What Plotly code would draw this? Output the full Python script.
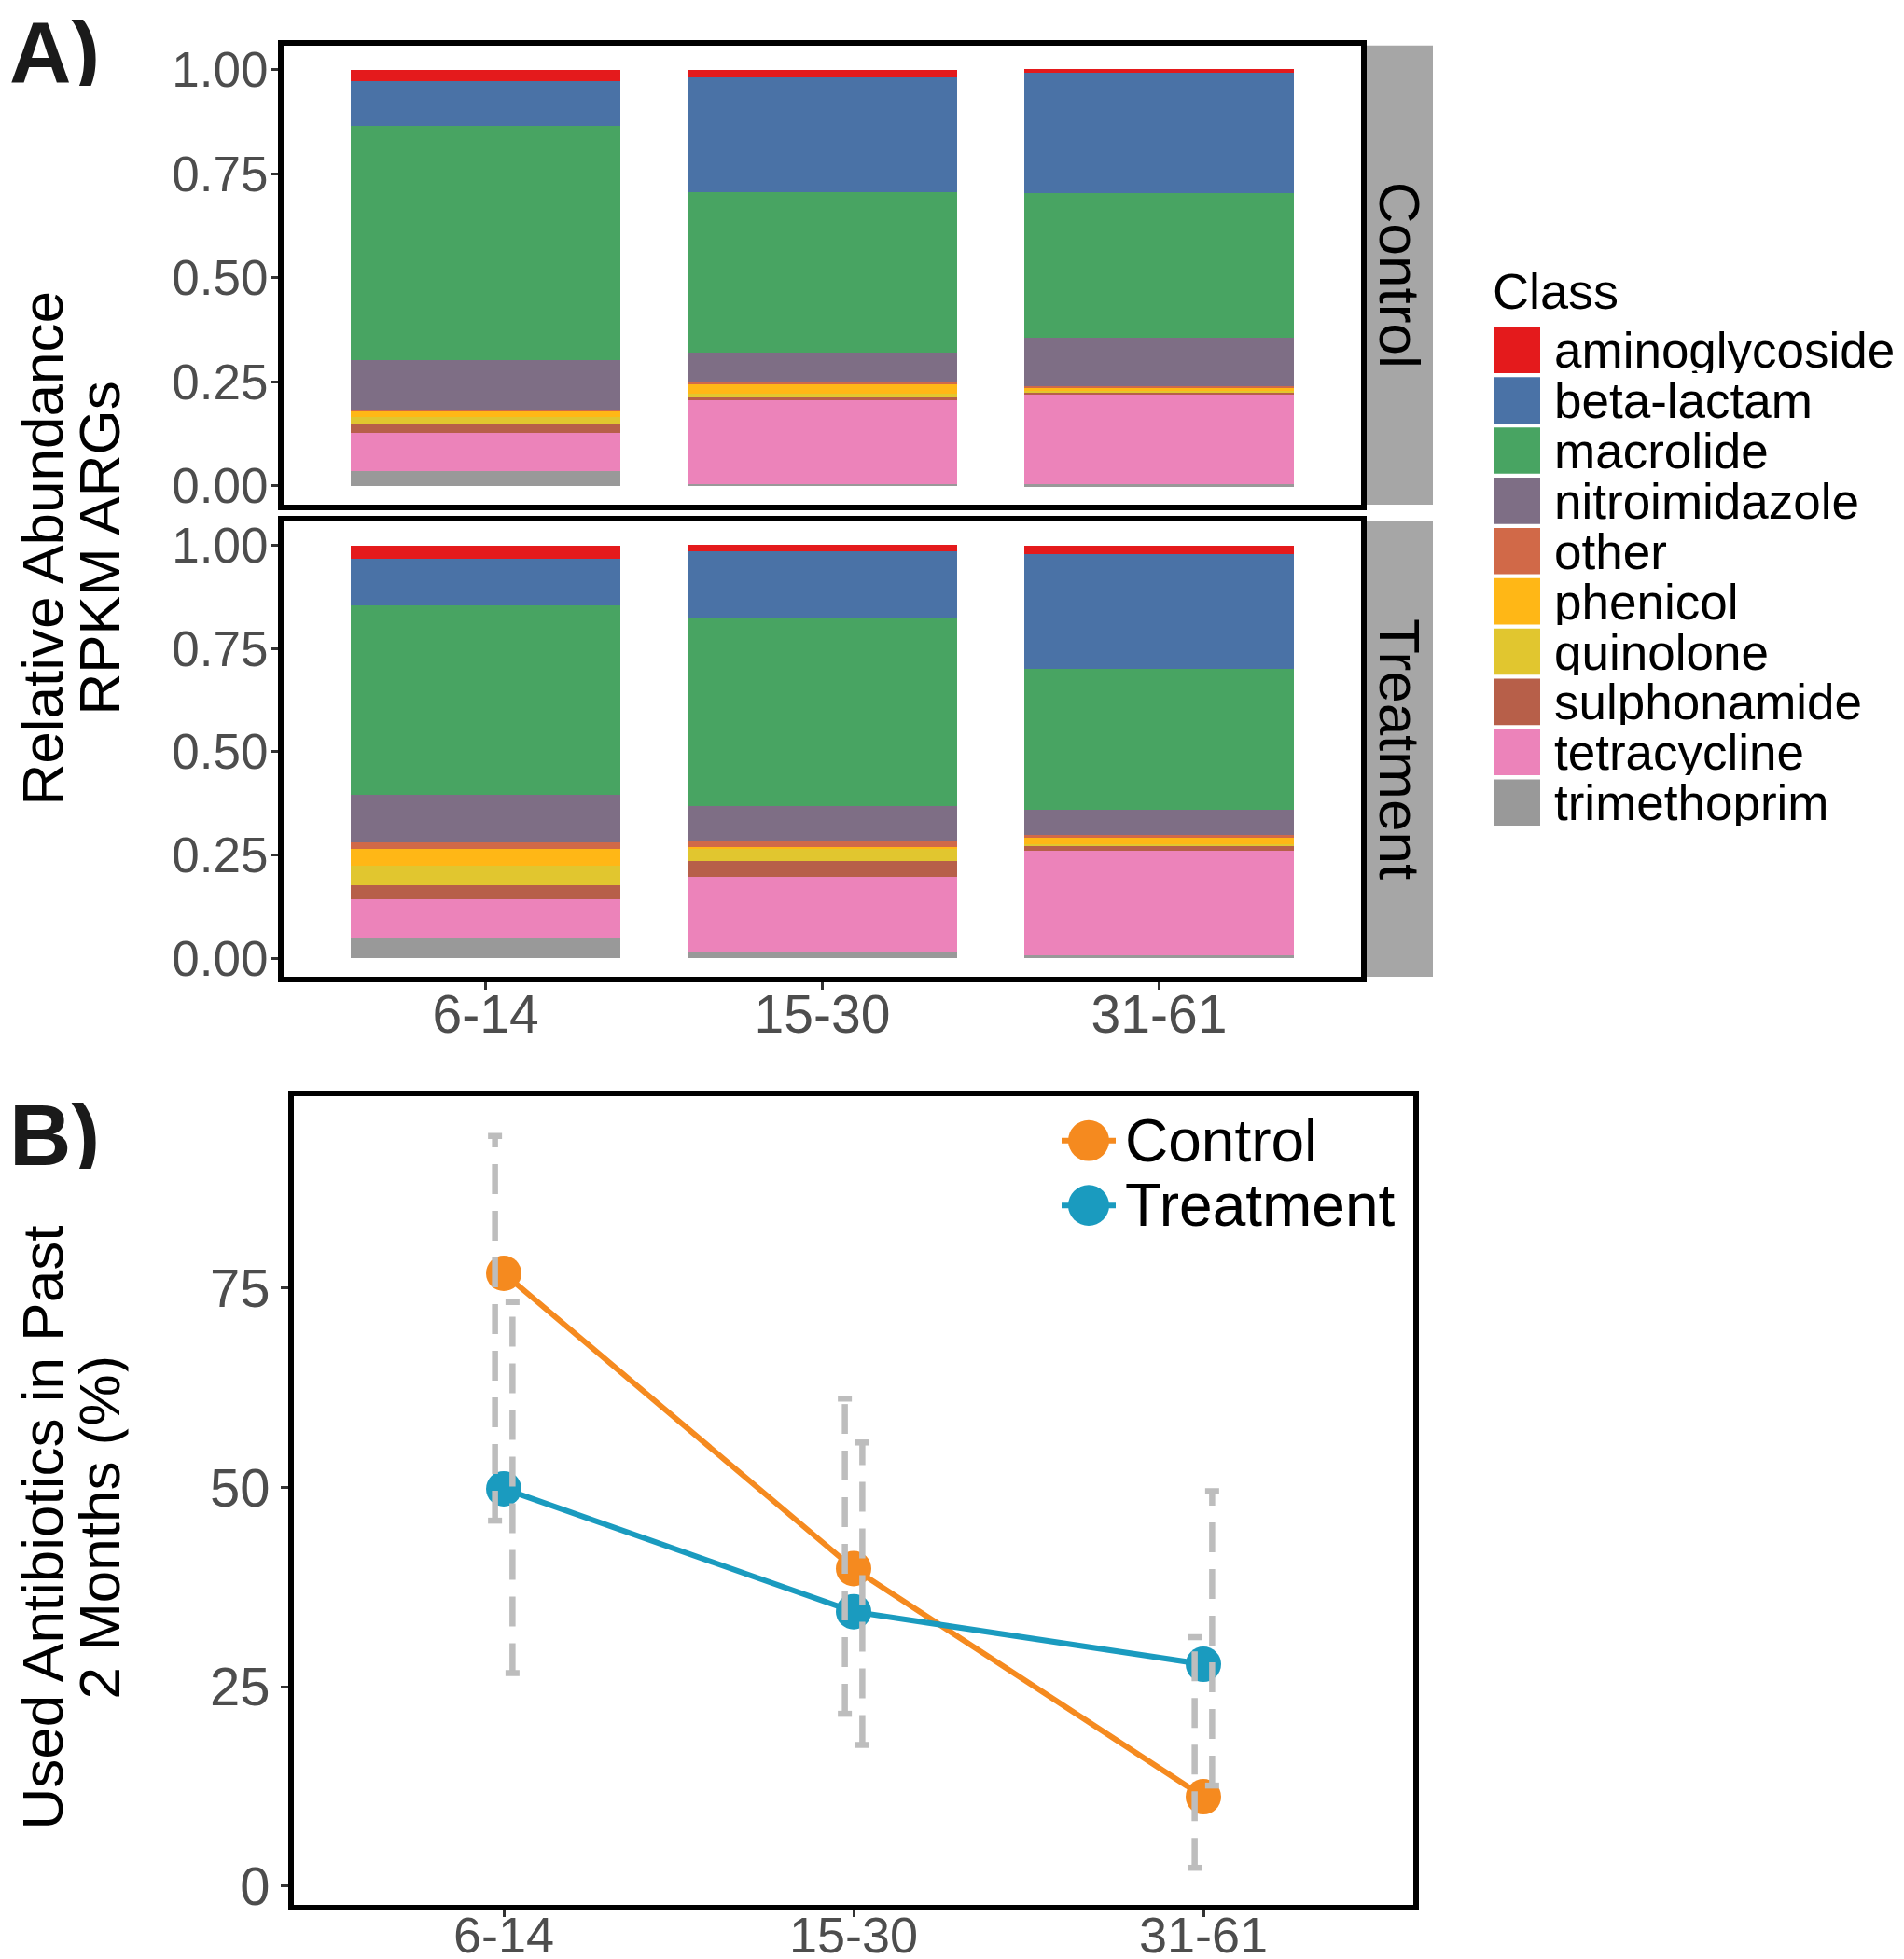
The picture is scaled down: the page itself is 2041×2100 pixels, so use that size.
import plotly.graph_objects as go

# ---------------- data ----------------
age_groups = ["6-14", "15-30", "31-61"]
classes = ["aminoglycoside", "beta-lactam", "macrolide", "nitroimidazole", "other",
           "phenicol", "quinolone", "sulphonamide", "tetracycline", "trimethoprim"]
class_colors = ["#E41A1C", "#4A72A6", "#48A462", "#7E6E85", "#D16948",
                "#FFB716", "#E1C62F", "#B75F49", "#EC83BA", "#999999"]

# relative abundance per class (rows follow `classes`), columns follow `age_groups`
control_abund = [
    [0.026, 0.017, 0.009],
    [0.107, 0.275, 0.287],
    [0.563, 0.387, 0.349],
    [0.118, 0.068, 0.117],
    [0.006, 0.007, 0.002],
    [0.013, 0.023, 0.008],
    [0.017, 0.009, 0.005],
    [0.021, 0.007, 0.005],
    [0.092, 0.201, 0.215],
    [0.036, 0.005, 0.004],
]
treatment_abund = [
    [0.032, 0.015, 0.020],
    [0.112, 0.163, 0.279],
    [0.458, 0.453, 0.340],
    [0.115, 0.087, 0.063],
    [0.017, 0.013, 0.004],
    [0.041, 0.005, 0.017],
    [0.047, 0.029, 0.005],
    [0.034, 0.038, 0.012],
    [0.094, 0.184, 0.252],
    [0.049, 0.014, 0.008],
]

groups = ["Control", "Treatment"]
group_colors = ["#F58A1F", "#1A9BBF"]
control_pct = [76.8, 39.8, 11.2]
control_lo = [45.8, 21.6, 2.3]
control_hi = [94.0, 61.1, 31.2]
treatment_pct = [49.8, 34.4, 27.8]
treatment_lo = [26.7, 17.7, 12.6]
treatment_hi = [73.2, 55.6, 49.5]

title_a = ["Relative Abundance", "RPKM ARGs"]
title_b = ["Used Antibiotics in Past", "2 Months (%)"]

# ---------------- layout helpers ----------------
W, H = 2041, 2100
FONT = "Liberation Sans, Arial, Helvetica, sans-serif"


def px_x(p):
    return p / W


def px_y(p):
    return 1 - p / H


xpos = [1, 2, 3]
fig = go.Figure()

# ---------------- panel A: stacked bars ----------------
for data, xa, ya in [(control_abund, "x", "y"), (treatment_abund, "x2", "y2")]:
    for i in reversed(range(len(classes))):
        fig.add_trace(go.Bar(
            x=xpos, y=data[i], width=0.8, name=classes[i],
            marker=dict(color=class_colors[i], line=dict(width=0)),
            xaxis=xa, yaxis=ya, showlegend=False,
        ))

# ---------------- panel B: lines, points, error bars ----------------
pcts = [control_pct, treatment_pct]
los = [control_lo, treatment_lo]
his = [control_hi, treatment_hi]
offsets = [-0.025, 0.025]
for g in range(2):
    fig.add_trace(go.Scatter(
        x=xpos, y=pcts[g], mode="lines+markers", name=groups[g],
        line=dict(color=group_colors[g], width=6),
        marker=dict(color=group_colors[g], size=38),
        xaxis="x3", yaxis="y3", showlegend=False,
    ))
cap = 0.02
for g in range(2):
    vx, vy, cx, cy = [], [], [], []
    for k in range(3):
        xc = xpos[k] + offsets[g]
        vx += [xc, xc, None]
        vy += [los[g][k], his[g][k], None]
        cx += [xc - cap, xc + cap, None, xc - cap, xc + cap, None]
        cy += [his[g][k], his[g][k], None, los[g][k], los[g][k], None]
    fig.add_trace(go.Scatter(x=vx, y=vy, mode="lines",
                             line=dict(color="#BDBDBD", width=6.5, dash="32px,18px"),
                             xaxis="x3", yaxis="y3", showlegend=False, hoverinfo="skip"))
    fig.add_trace(go.Scatter(x=cx, y=cy, mode="lines",
                             line=dict(color="#BDBDBD", width=6.5),
                             xaxis="x3", yaxis="y3", showlegend=False, hoverinfo="skip"))

# ---------------- axes ----------------
frame = dict(showline=True, linewidth=6, linecolor="black", mirror=True,
             showgrid=False, zeroline=False)
ticks = dict(ticks="outside", ticklen=8, tickwidth=3, tickcolor="#333333")

ctrl_dom_y = [px_y(533), px_y(37)]
trt_dom_y = [px_y(1043), px_y(551)]
a_dom_x = [px_x(296), px_x(1451)]
b_dom_x = [px_x(307), px_x(1507)]
b_dom_y = [px_y(2046), px_y(1172)]

yA = dict(range=[-0.045, 1.058], tickvals=[0, 0.25, 0.5, 0.75, 1.0],
          ticktext=["0.00", "0.25", "0.50", "0.75", "1.00"],
          tickfont=dict(family=FONT, size=53, color="#4D4D4D"),
          ticklabelstandoff=-8, **frame, **ticks)

fig.update_layout(
    width=W, height=H, margin=dict(l=0, r=0, t=0, b=0),
    paper_bgcolor="white", plot_bgcolor="white", barmode="stack", bargap=0,
    font=dict(family=FONT, color="black"),
    xaxis=dict(domain=a_dom_x, anchor="y", range=[0.4, 3.6], tickvals=xpos,
               showticklabels=False, ticks="", **frame),
    yaxis=dict(domain=ctrl_dom_y, anchor="x", **yA),
    xaxis2=dict(domain=a_dom_x, anchor="y2", range=[0.4, 3.6], tickvals=xpos,
                ticktext=age_groups, tickfont=dict(family=FONT, size=57, color="#4D4D4D"),
                ticklabelstandoff=-22, **frame, **ticks),
    yaxis2=dict(domain=trt_dom_y, anchor="x2", **yA),
    xaxis3=dict(domain=b_dom_x, anchor="y3", range=[0.4, 3.6], tickvals=xpos,
                ticktext=age_groups, tickfont=dict(family=FONT, size=54, color="#4D4D4D"),
                ticklabelstandoff=-27, showline=True, linewidth=6, linecolor="black",
                mirror=True, showgrid=False, zeroline=False,
                ticks="outside", ticklen=7, tickwidth=3, tickcolor="#333333"),
    yaxis3=dict(domain=b_dom_y, anchor="x3", range=[-2.4, 99.0], tickvals=[0, 25, 50, 75],
                tickfont=dict(family=FONT, size=58, color="#4D4D4D"), **frame, **ticks),
)

shapes = []
annotations = []

# facet strips
for dom, label in [(ctrl_dom_y, "Control"), (trt_dom_y, "Treatment")]:
    shapes.append(dict(type="rect", xref="paper", yref="paper",
                       x0=px_x(1457), x1=px_x(1528), y0=dom[0], y1=dom[1],
                       fillcolor="#A6A6A6", line=dict(width=0), layer="below"))
    annotations.append(dict(xref="paper", yref="paper", x=px_x(1492), y=(dom[0] + dom[1]) / 2,
                            text=label, textangle=90, showarrow=False,
                            font=dict(family=FONT, size=62, color="black"),
                            xanchor="center", yanchor="middle"))

# class legend (panel A)
annotations.append(dict(xref="paper", yref="paper", x=px_x(1590), y=px_y(302), text="Class",
                        showarrow=False, xanchor="left", yanchor="middle", height=52,
                        font=dict(family=FONT, size=54, color="black")))
for i, (c, col) in enumerate(zip(classes, class_colors)):
    yc = 366 + i * 54.3
    shapes.append(dict(type="rect", xref="paper", yref="paper",
                       x0=px_x(1594), x1=px_x(1643), y0=px_y(yc + 25), y1=px_y(yc - 25),
                       fillcolor=col, line=dict(width=0)))
    annotations.append(dict(xref="paper", yref="paper", x=px_x(1656), y=px_y(yc), text=c,
                            showarrow=False, xanchor="left", yanchor="middle", height=50,
                            font=dict(family=FONT, size=53, color="black")))

# group legend (panel B)
for g in range(2):
    yc = 1220 + g * 70
    xc = 1159
    shapes.append(dict(type="line", xref="paper", yref="paper",
                       x0=px_x(xc - 29), x1=px_x(xc + 29), y0=px_y(yc), y1=px_y(yc),
                       line=dict(color=group_colors[g], width=6)))
    shapes.append(dict(type="circle", xref="paper", yref="paper",
                       x0=px_x(xc - 22), x1=px_x(xc + 22), y0=px_y(yc + 22), y1=px_y(yc - 22),
                       fillcolor=group_colors[g], line=dict(width=0)))
    annotations.append(dict(xref="paper", yref="paper", x=px_x(1196), y=px_y(yc), text=groups[g],
                            showarrow=False, xanchor="left", yanchor="middle", height=66,
                            font=dict(family=FONT, size=64, color="black")))

# axis titles (two rotated lines each; height = line thickness before rotation)
for lines, yc in [(title_a, 580), (title_b, 1638)]:
    for j, line in enumerate(lines):
        annotations.append(dict(xref="paper", yref="paper", x=px_x(37 + j * 61), y=px_y(yc),
                                text=line, textangle=-90, showarrow=False,
                                xanchor="center", yanchor="middle", height=62,
                                font=dict(family=FONT, size=62, color="black")))

# panel labels
annotations.append(dict(xref="paper", yref="paper", x=0, y=px_y(44), text="<b>A)</b>",
                        showarrow=False, xanchor="left", yanchor="middle", height=72,
                        font=dict(family=FONT, size=92, color="#1A1A1A")))
annotations.append(dict(xref="paper", yref="paper", x=0, y=px_y(1214), text="<b>B)</b>",
                        showarrow=False, xanchor="left", yanchor="middle", height=72,
                        font=dict(family=FONT, size=92, color="#1A1A1A")))

fig.update_layout(shapes=shapes, annotations=annotations)
fig.write_html("out.html")
